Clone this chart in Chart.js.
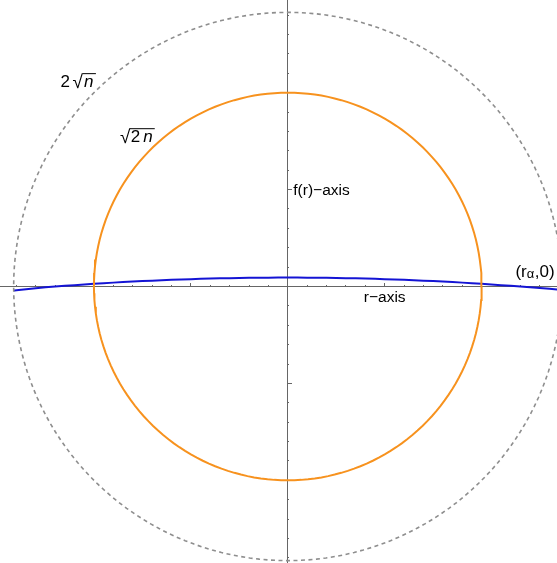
<!DOCTYPE html>
<html>
<head>
<meta charset="utf-8">
<script src="https://cdn.jsdelivr.net/npm/chart.js@4.4.1/dist/chart.umd.min.js"></script>
<style>
html,body{margin:0;padding:0;background:#fff;}
#wrap{width:557px;height:563px;position:relative;}
</style>
</head>
<body>
<div id="wrap"><canvas id="c" width="557" height="563"></canvas></div>
<script>
// ---- data ----
const n = 50;                                   // circle parameter
const circleRadii = [Math.sqrt(2 * n), 2 * Math.sqrt(n)]; // sqrt(2n), 2 sqrt(n)
const curveR = [-14.14,-14,-13,-12,-11,-10,-9,-8,-7,-6,-5,-4,-3,-2,-1,0,1,2,3,4,5,6,7,8,9,10,11,12,13,14];
const curveF = [-0.21,-0.19,-0.09,0.0,0.07,0.14,0.20,0.26,0.30,0.345,0.38,0.41,0.43,0.447,0.457,0.46,0.457,0.447,0.43,0.41,0.38,0.345,0.30,0.26,0.20,0.14,0.07,0.0,-0.08,-0.165];
const rAlpha = 12;
const minorTicks = [-14,-13,-12,-11,-10,-9,-8,-7,-6,-5,-4,-3,-2,-1,1,2,3,4,5,6,7,8,9,10,11,12,13,14];
const majorTicks = [-10,-5,5,10];
const xRange = [-14.846, 13.887];
const yRange = [-14.264, 14.78];

function circlePoints(R) {
  const pts = [];
  for (let d = 0; d <= 360; d += 2) {
    const a = d * Math.PI / 180;
    pts.push({x: R * Math.cos(a), y: R * Math.sin(a)});
  }
  return pts;
}
const curvePts = curveR.map((r, i) => ({x: r, y: curveF[i]}));

const AX = '#666666';
const FONT = '"Liberation Sans", Arial, sans-serif';

function axisOpts(axis, pos, ticksArr, len, border) {
  return {
    type: 'linear', axis: axis, position: pos,
    min: axis === 'x' ? xRange[0] : yRange[0],
    max: axis === 'x' ? xRange[1] : yRange[1],
    grid: {drawOnChartArea: false, drawTicks: true, tickLength: len, color: AX, lineWidth: 1},
    border: {display: border, color: AX, width: 1},
    ticks: {display: false},
    afterBuildTicks: s => { s.ticks = ticksArr.map(v => ({value: v})); },
    afterFit: s => { if (axis === 'x') s.height = 0; else s.width = 0; }
  };
}

function drawRadical(ctx, x, y, size) {
  // draws the radical sign as text and returns {end, top}
  ctx.font = size + 'px ' + FONT;
  ctx.fillText('\u221a', x, y + 1.5);
  const m = ctx.measureText('\u221a');
  return {end: x + m.width - 0.5, top: y + 1.5 - m.actualBoundingBoxAscent};
}

const labelPlugin = {
  id: 'labels',
  afterDatasetsDraw(chart) {
    const ctx = chart.ctx, xs = chart.scales.x, ys = chart.scales.y;
    const px = v => xs.getPixelForValue(v), py = v => ys.getPixelForValue(v);
    ctx.save();
    ctx.fillStyle = '#000';
    ctx.strokeStyle = '#000';
    ctx.lineWidth = 1;
    ctx.textBaseline = 'alphabetic';
    ctx.font = '15.5px ' + FONT;
    // r-axis label
    ctx.textAlign = 'center';
    ctx.fillText('r\u2212axis', px(5), py(0) + 15.5);
    // f(r)-axis label
    ctx.textAlign = 'left';
    ctx.fillText('f(r)\u2212axis', px(0) + 5.5, py(5) + 5.5);
    // (r_alpha, 0)
    let x = px(rAlpha) - 5, y = py(0) - 10;
    ctx.font = '17px ' + FONT;
    ctx.fillText('(r', x, y); x += ctx.measureText('(r').width;
    ctx.font = '13px ' + FONT;
    ctx.fillText('\u03b1', x, y + 1.5); x += ctx.measureText('\u03b1').width + 0.5;
    ctx.font = '17px ' + FONT;
    ctx.fillText(',0)', x, y);
    // 2 sqrt(n)
    x = px(-11.72); y = py(10.31);
    ctx.font = '17px ' + FONT;
    ctx.fillText('2', x, y); x += ctx.measureText('2').width + 2.5;
    let rad = drawRadical(ctx, x, y, 19);
    ctx.font = 'italic 17px ' + FONT;
    let nw = ctx.measureText('n').width;
    ctx.fillText('n', rad.end + 1.5, y);
    ctx.beginPath(); ctx.moveTo(rad.end, rad.top + 0.5); ctx.lineTo(rad.end + nw + 4, rad.top + 0.5); ctx.stroke();
    // sqrt(2 n)
    x = px(-8.66); y = py(7.47);
    rad = drawRadical(ctx, x, y, 19);
    ctx.font = '17px ' + FONT;
    const w2 = ctx.measureText('2').width;
    ctx.fillText('2', rad.end + 1, y);
    ctx.font = 'italic 17px ' + FONT;
    nw = ctx.measureText('n').width;
    ctx.fillText('n', rad.end + 1 + w2 + 3, y);
    ctx.beginPath(); ctx.moveTo(rad.end, rad.top + 0.5); ctx.lineTo(rad.end + 1 + w2 + 3 + nw + 2, rad.top + 0.5); ctx.stroke();
    ctx.restore();
  }
};

new Chart(document.getElementById('c'), {
  type: 'scatter',
  data: {
    datasets: [
      {data: circlePoints(circleRadii[1]), showLine: true, borderColor: '#8e8e8e', borderWidth: 1.6, borderDash: [4, 3.5], pointRadius: 0, fill: false},
      {data: circlePoints(circleRadii[0]), showLine: true, borderColor: '#f7921e', borderWidth: 2, pointRadius: 0, fill: false},
      {data: curvePts, showLine: true, borderColor: '#1414d4', borderWidth: 2, pointRadius: 0, tension: 0.3, fill: false}
    ]
  },
  options: {
    responsive: false,
    animation: false,
    devicePixelRatio: 1,
    layout: {padding: 0},
    plugins: {legend: {display: false}, tooltip: {enabled: false}},
    scales: {
      x: axisOpts('x', {y: 0}, minorTicks, -2, true),
      x2: axisOpts('x', {y: 0}, majorTicks, -4, false),
      y: axisOpts('y', {x: 0}, minorTicks, -2, true),
      y2: axisOpts('y', {x: 0}, majorTicks, -4, false)
    }
  },
  plugins: [labelPlugin]
});
</script>
</body>
</html>
